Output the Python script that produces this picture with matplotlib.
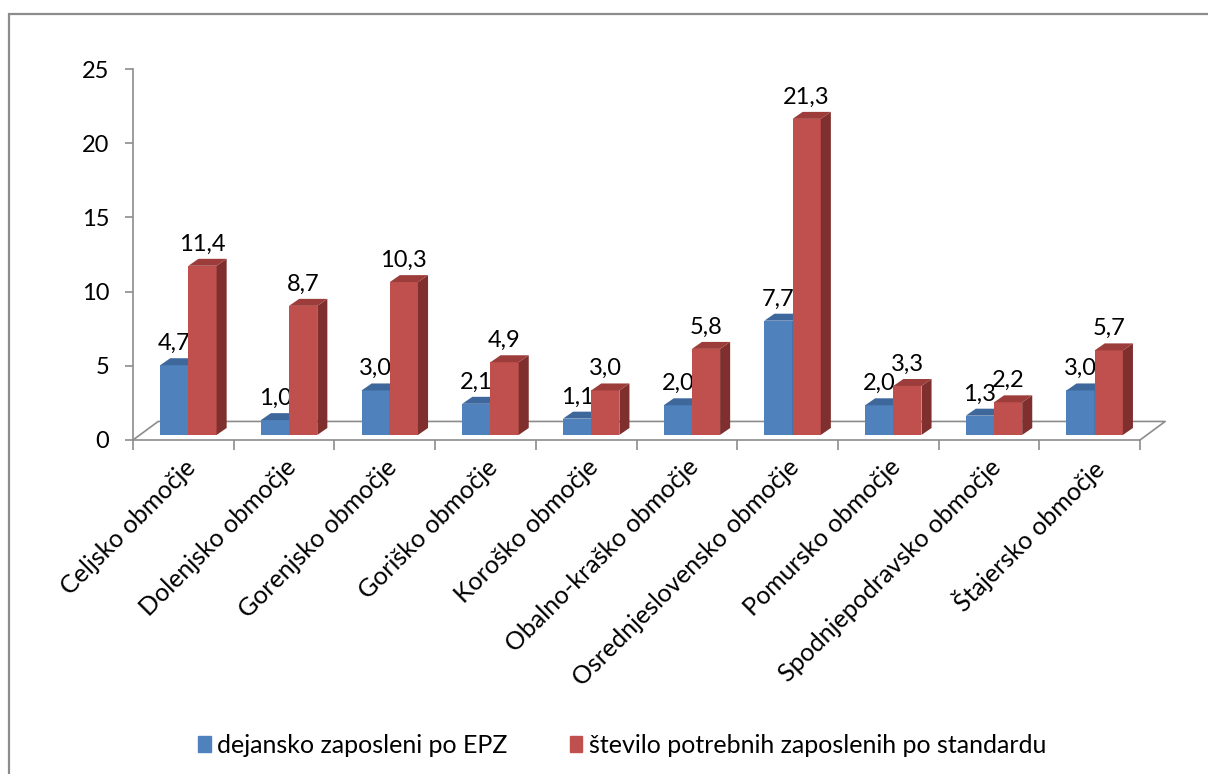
import numpy as np
import matplotlib
matplotlib.use('Agg')
from matplotlib import pyplot as plt
from matplotlib.patches import Polygon, Patch, Rectangle

plt.rcParams['font.family'] = ['Lato', 'DejaVu Sans']

regions = ['Celjsko območje', 'Dolenjsko območje', 'Gorenjsko območje', 'Goriško območje',
           'Koroško območje', 'Obalno-kraško območje', 'Osrednjeslovensko območje',
           'Pomursko območje', 'Spodnjepodravsko območje', 'Štajersko območje']
actual = [4.7, 1.0, 3.0, 2.1, 1.1, 2.0, 7.7, 2.0, 1.3, 3.0]
needed = [11.4, 8.7, 10.3, 4.9, 3.0, 5.8, 21.3, 3.3, 2.2, 5.7]
series_names = ['dejansko zaposleni po EPZ', 'število potrebnih zaposlenih po standardu']
yticks = [0, 5, 10, 15, 20, 25]

# colours: front, side, top
blue = ('#4F81BD', '#3A6190', '#3E679B')
red = ('#C0504D', '#7F2F2D', '#9C3D3B')
grey = '#8C8C8C'

# fake 3d look (data units)
width = 0.28
dx, dy = 0.10, 0.47
lift = 0.34
floor_dx, floor_dy = 0.25, 1.25

W, H = 1208, 774
fig = plt.figure(figsize=(W / 100, H / 100), dpi=100)
ax = fig.add_axes([133 / W, 1 - 440 / H, (1140 - 133) / W, (440 - 69) / H])
ax.set_xlim(-0.5, 9.5)
ax.set_ylim(0, 25)


#function drawing one series of pseudo 3d bars
def bars3d(ax, xs, vals, col, z):
    bars = ax.bar(xs, vals, width, bottom=lift, color=col[0], zorder=z, linewidth=0)
    for b, v in zip(bars, vals):
        x0 = b.get_x()
        x1 = x0 + b.get_width()
        y0 = b.get_y()
        y1 = y0 + b.get_height()
        side = Polygon([(x1, y0), (x1 + dx, y0 + dy), (x1 + dx, y1 + dy), (x1, y1)],
                       closed=True, fc=col[1], ec='none', zorder=z, clip_on=False)
        top = Polygon([(x0, y1), (x0 + dx, y1 + dy), (x1 + dx, y1 + dy), (x1, y1)],
                      closed=True, fc=col[2], ec='none', zorder=z, clip_on=False)
        ax.add_patch(side)
        ax.add_patch(top)
        ax.annotate(('%.1f' % v).replace('.', ','), xy=(x0 + b.get_width() / 2, y1 + dy),
                    xytext=(0, 3), textcoords='offset points', ha='center', va='bottom',
                    fontsize=17, zorder=z + 1, annotation_clip=False)


x = np.arange(len(regions))

#floor of the 3d plot
ax.plot([-0.5, -0.5 + floor_dx, 9.5 + floor_dx, 9.5],
        [0, floor_dy, floor_dy, 0], color=grey, lw=1.2, clip_on=False, zorder=1)

bars3d(ax, x - 0.09, actual, blue, 3)
bars3d(ax, x + 0.19, needed, red, 5)

#axes styling
for s in ['top', 'right']:
    ax.spines[s].set_visible(False)
for s in ['left', 'bottom']:
    ax.spines[s].set_color(grey)
    ax.spines[s].set_linewidth(1.2)

ax.set_yticks(yticks)
ax.tick_params(axis='y', length=6, width=1.2, color=grey, pad=11, labelsize=17)

ax.set_xticks(np.arange(-0.5, 10, 1.0))
ax.set_xticklabels([])
ax.tick_params(axis='x', which='major', length=7, width=1.2, color=grey)
ax.set_xticks(x, minor=True)
ax.set_xticklabels(regions, minor=True, rotation=45, ha='right', rotation_mode='anchor',
                   fontsize=18)
ax.tick_params(axis='x', which='minor', length=0, pad=11)

#legend at the bottom
handles = [Patch(color=blue[0]), Patch(color=red[0])]
fig.legend(handles, series_names, loc='center', bbox_to_anchor=(0.515, 0.037), ncol=2,
           frameon=False, handlelength=0.5, handleheight=0.6, handletextpad=0.25,
           columnspacing=2.5, fontsize=18)

#outer border
fig.add_artist(Rectangle((9 / W, -0.1), 1.2, 1 - 14 / H + 0.1, fill=False, ec=grey,
                         lw=1.6, transform=fig.transFigure))

plt.savefig('out.png', dpi=100)
